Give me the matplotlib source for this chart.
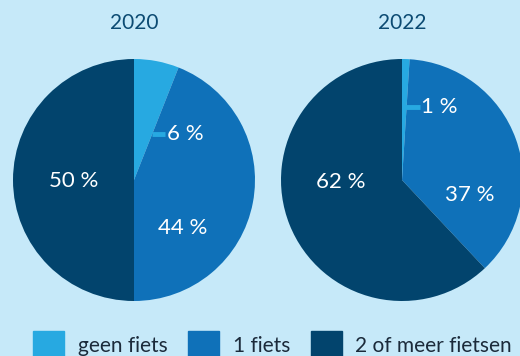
import matplotlib
matplotlib.use("Agg")
import matplotlib.pyplot as plt
from matplotlib.patches import Rectangle

years = ["2020", "2022"]
categories = ["geen fiets", "1 fiets", "2 of meer fietsen"]
values_2020 = [6, 44, 50]
values_2022 = [1, 37, 62]
colors = ["#27a9e1", "#0f71b9", "#02446d"]
bg = "#c6e9f9"

plt.rcParams['font.family'] = ['Lato', 'DejaVu Sans']

W, H = 520, 356
fig = plt.figure(figsize=(W / 100, H / 100), dpi=100, facecolor=bg)

R = 121
centers = [(134, 180), (402, 180)]
all_vals = [values_2020, values_2022]

# label positions in data coordinates (radius units)
inner_labels = [
    [(0.40, -0.40, 1), (-0.50, -0.01, 2)],
    [(0.56, -0.12, 1), (-0.51, -0.02, 2)],
]
leader = [
    (0.38, 0.15, 0.26),
    (0.60, 0.01, 0.15),
]

for i, (cx, cy) in enumerate(centers):
    ax = fig.add_axes([(cx - R) / W, (H - cy - R) / H, 2 * R / W, 2 * R / H])
    ax.pie(all_vals[i], colors=colors, startangle=90, counterclock=False,
           radius=1, wedgeprops=dict(linewidth=0))
    ax.set_xlim(-1, 1)
    ax.set_ylim(-1, 1)
    ax.set_aspect('auto')
    ax.axis('off')
    for x, y, k in inner_labels[i]:
        ax.text(x, y, f"{all_vals[i][k]} %", color="white", fontsize=16,
                ha="center", va="center")
    ly, x0, x1 = leader[i]
    ax.plot([x0, x1], [ly, ly], color=colors[0], lw=3.5, solid_capstyle='butt')
    ax.text(x1 + 0.01, ly, f"{all_vals[i][0]} %", color="white", fontsize=16,
            ha="left", va="center")
    fig.text(cx / W, 1 - 23 / H, years[i], color="#0c4b73", fontsize=15,
             ha="center", va="center")

# legend
sq_x = [33, 188, 311]
tx_x = [78, 233, 355]
for k in range(3):
    fig.patches.append(Rectangle((sq_x[k] / W, 0), 31 / W, (H - 331) / H,
                                 transform=fig.transFigure, color=colors[k]))
    fig.text(tx_x[k] / W, (H - 352) / H, categories[k], color="#1b2a3a",
             fontsize=15, ha="left", va="baseline")

fig.savefig("out.png", dpi=100, facecolor=bg)
